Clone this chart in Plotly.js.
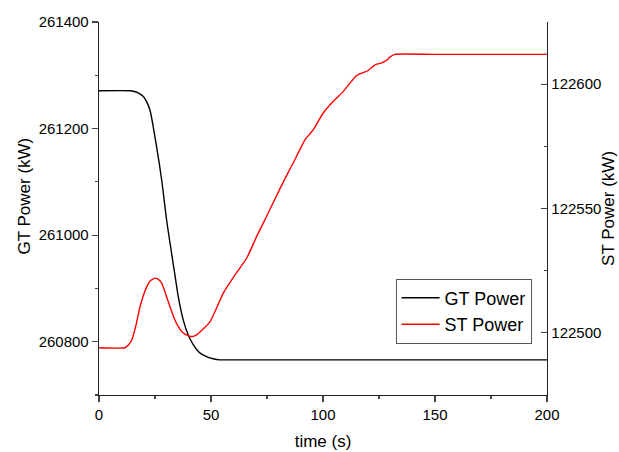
<!DOCTYPE html>
<html>
<head>
<meta charset="utf-8">
<script src="https://cdn.plot.ly/plotly-3.0.1.min.js"></script>
<style>html,body{margin:0;padding:0;background:#fff;}#chart{width:619px;height:452px;}</style>
</head>
<body>
<div id="chart"></div>
<script>
// GT Power (left axis, kW)
const gtTime  = [0, 14, 15.3, 17.5, 19.8, 21.3, 22.8, 25.7, 28, 30.2, 32.4, 34.7, 35.4, 37.6, 39.9, 42, 45, 48, 51, 54, 57, 200];
const gtPower = [261271, 261271, 261270, 261267, 261260, 261250, 261234, 261166, 261103, 261028, 260966, 260903, 260884, 260841, 260812, 260795, 260779, 260772, 260768, 260766, 260766, 260766];

// ST Power (right axis, kW)
const stTime  = [0, 11.6, 13, 14.6, 16.5, 18.3, 21.3, 23, 25, 26.5, 28, 29.8, 31.7, 33.5, 35.4, 37.5, 39.9, 41.5, 43.6, 46.5, 49.6, 52.5, 55.5, 60.5, 65.9, 70.5, 74.9, 80.8, 85.3, 86.7, 92, 95.7, 100.1, 104.6, 109.1, 112.1, 115, 117.5, 120.2, 123.2, 126, 128.4, 130, 132.1, 150, 200];
const stPower = [122494, 122494, 122495, 122497, 122503, 122510.5, 122518.5, 122521, 122522, 122521.5, 122520, 122515.5, 122510.5, 122506, 122502.5, 122500, 122498.8, 122498.5, 122499.2, 122501.5, 122504.5, 122510, 122516, 122523, 122530, 122539, 122547, 122558, 122566, 122568.3, 122577.7, 122581.7, 122588.4, 122593.1, 122597.1, 122600.5, 122603.5, 122604.5, 122605.5, 122607.8, 122608.5, 122609.6, 122611, 122612, 122612, 122612];

const xTicks = [0, 50, 100, 150, 200];
const gtTicks = [260800, 261000, 261200, 261400];
const stTicks = [122500, 122550, 122600];

const xTitle = 'time (s)';
const gtTitle = 'GT Power (kW)';
const stTitle = 'ST Power (kW)';

const FONT = 'Liberation Sans, Arial, sans-serif';

const traces = [
  {x: gtTime, y: gtPower, name: 'GT Power', type: 'scatter', mode: 'lines',
   line: {color: '#000000', width: 1.4, shape: 'spline', smoothing: 0.7}, yaxis: 'y'},
  {x: stTime, y: stPower, name: 'ST Power', type: 'scatter', mode: 'lines',
   line: {color: '#ff0000', width: 1.4, shape: 'spline', smoothing: 0.5}, yaxis: 'y2'}
];

const axisCommon = {
  showgrid: false, zeroline: false, showline: true,
  linecolor: '#222', linewidth: 1.3,
  tickcolor: '#444', tickwidth: 1.2, ticklen: 6,
  tickfont: {family: FONT, size: 15, color: '#000'},
};

const titleFont = {family: FONT, size: 17, color: '#000'};

const layout = {
  width: 619, height: 452,
  margin: {l: 99, r: 72, t: 22, b: 57, pad: 0},
  paper_bgcolor: '#ffffff', plot_bgcolor: '#ffffff',
  font: {family: FONT, color: '#000'},
  showlegend: true,
  legend: {x: 0.662, y: 0.225, xanchor: 'left', yanchor: 'middle',
           bgcolor: '#ffffff', bordercolor: '#555', borderwidth: 1, itemwidth: 38,
           font: {family: FONT, size: 18, color: '#000'}, tracegroupgap: 0},
  xaxis: Object.assign({}, axisCommon, {
    range: [0, 200], tickvals: xTicks, ticks: 'outside',
    minor: {dtick: 25, tick0: 0, ticks: 'outside', ticklen: 3, tickcolor: '#444'},
    title: {text: xTitle, font: titleFont, standoff: 12},
    automargin: false
  }),
  yaxis: Object.assign({}, axisCommon, {
    range: [260700, 261400], tickvals: gtTicks, tickformat: 'd', ticks: 'outside',
    minor: {dtick: 100, tick0: 260700, ticks: 'outside', ticklen: 3, tickcolor: '#444'},
    automargin: false
  }),
  yaxis2: Object.assign({}, axisCommon, {
    overlaying: 'y', side: 'right', anchor: 'x',
    range: [122475, 122625], tickvals: stTicks, tickformat: 'd', ticks: 'inside',
    minor: {dtick: 25, tick0: 122475, ticks: 'inside', ticklen: 3, tickcolor: '#444'},
    automargin: false
  }),
  annotations: [
    {text: gtTitle, xref: 'paper', yref: 'paper', x: -0.1685, y: 0.5335,
     xanchor: 'center', yanchor: 'middle', textangle: -90, showarrow: false, font: titleFont},
    {text: stTitle, xref: 'paper', yref: 'paper', x: 1.137, y: 0.50,
     xanchor: 'center', yanchor: 'middle', textangle: -90, showarrow: false, font: titleFont}
  ]
};

Plotly.newPlot('chart', traces, layout, {staticPlot: true, displayModeBar: false});
</script>
</body>
</html>
